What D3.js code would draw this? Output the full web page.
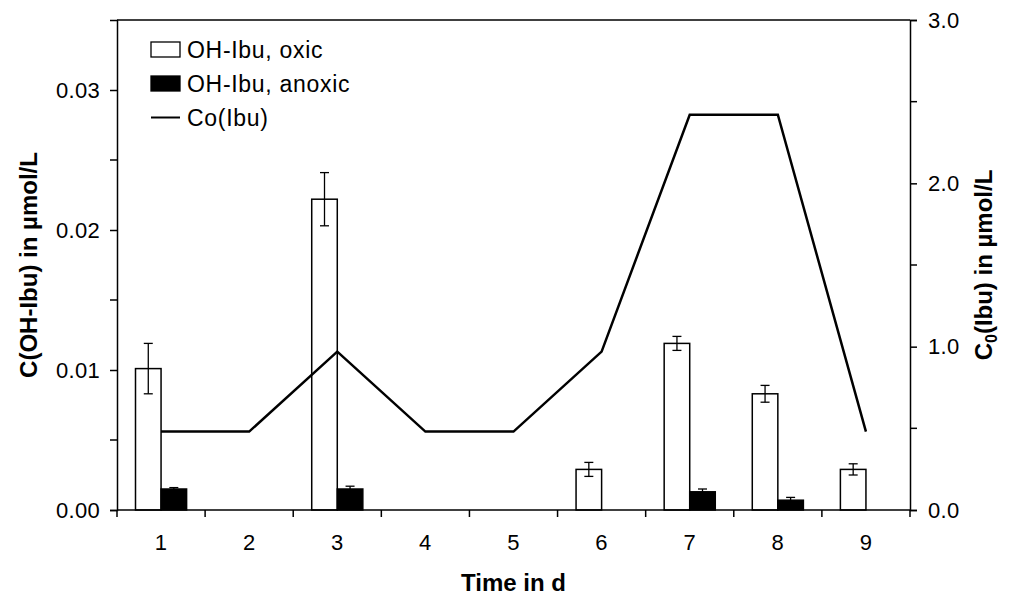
<!DOCTYPE html>
<html>
<head>
<meta charset="utf-8">
<script src="https://cdn.jsdelivr.net/npm/d3@7"></script>
<style>
    body { margin: 0; background: white; }
    svg text { font-family: "Liberation Sans", Arial, sans-serif; fill: black; }
</style>
</head>
<body>
<div id="chart"></div>
<script>
// days on x, OH-Ibu concentrations (left axis), Co(Ibu) (right axis)
let days = [1, 2, 3, 4, 5, 6, 7, 8, 9];
let oxic = [0.0101, null, 0.0222, null, null, 0.0029, 0.0119, 0.0083, 0.0029];
let oxicErr = [0.0018, null, 0.0019, null, null, 0.0005, 0.0005, 0.0006, 0.0004];
let anoxic = [0.0015, null, 0.0015, null, null, null, 0.0013, 0.0007, null];
let anoxicErr = [0.0001, null, 0.0002, null, null, null, 0.0002, 0.0002, null];
let coIbu = [0.48, 0.48, 0.97, 0.48, 0.48, 0.97, 2.42, 2.42, 0.48];

let leftTicks = [0, 0.01, 0.02, 0.03];
let leftMinor = [0.005, 0.015, 0.025];
let rightTicks = [0, 1, 2, 3];
let rightMinor = [0.5, 1.5, 2.5];

let legendItems = ["OH-Ibu, oxic", "OH-Ibu, anoxic", "Co(Ibu)"];

let margin = { top: 20, right: 99, bottom: 88, left: 117 };
let totalW = 1009, totalH = 598;
let width = totalW - margin.left - margin.right;
let height = totalH - margin.top - margin.bottom;

let svg = d3.select("#chart").append("svg")
    .attr("width", totalW)
    .attr("height", totalH)
    .append("g")
    .attr("transform", `translate(${margin.left}, ${margin.top})`);

// scales
let x = d3.scaleBand().domain(days).range([0, width]).padding(0);
let y = d3.scaleLinear().domain([0, 0.035]).range([height, 0]);
let y2 = d3.scaleLinear().domain([0, 3]).range([height, 0]);
let barW = x.bandwidth() * 0.29;
let xc = d => x(d) + x.bandwidth() / 2;

// bars: oxic (white) left of centre, anoxic (black) right of centre
let rows = days.map((d, i) => ({
    day: d, oxic: oxic[i], oxicErr: oxicErr[i],
    anoxic: anoxic[i], anoxicErr: anoxicErr[i], co: coIbu[i]
}));

svg.selectAll("rect.oxic")
    .data(rows.filter(r => r.oxic !== null))
    .enter().append("rect")
    .attr("class", "oxic")
    .attr("x", d => xc(d.day) - barW)
    .attr("y", d => y(d.oxic))
    .attr("width", barW)
    .attr("height", d => height - y(d.oxic))
    .style("fill", "white")
    .style("stroke", "black")
    .style("stroke-width", 1.5);

svg.selectAll("rect.anoxic")
    .data(rows.filter(r => r.anoxic !== null))
    .enter().append("rect")
    .attr("class", "anoxic")
    .attr("x", d => xc(d.day))
    .attr("y", d => y(d.anoxic))
    .attr("width", barW)
    .attr("height", d => height - y(d.anoxic))
    .style("fill", "black")
    .style("stroke", "black")
    .style("stroke-width", 1.5);

// error bars
function errorBars(data, key, errKey, offset) {
    let g = svg.selectAll("g.err-" + key)
        .data(data.filter(r => r[key] !== null))
        .enter().append("g")
        .attr("class", "err-" + key)
        .style("stroke", "black")
        .style("stroke-width", 1.3);
    let cx = d => xc(d.day) + offset;
    g.append("line")
        .attr("x1", cx).attr("x2", cx)
        .attr("y1", d => y(d[key] + d[errKey]))
        .attr("y2", d => y(d[key] - d[errKey]));
    g.append("line")
        .attr("x1", d => cx(d) - 4.5).attr("x2", d => cx(d) + 4.5)
        .attr("y1", d => y(d[key] + d[errKey]))
        .attr("y2", d => y(d[key] + d[errKey]));
    g.append("line")
        .attr("x1", d => cx(d) - 4.5).attr("x2", d => cx(d) + 4.5)
        .attr("y1", d => y(d[key] - d[errKey]))
        .attr("y2", d => y(d[key] - d[errKey]));
}
errorBars(rows, "oxic", "oxicErr", -barW / 2);
errorBars(rows, "anoxic", "anoxicErr", barW / 2);

// Co(Ibu) line on right axis
let line = d3.line().x(d => xc(d.day)).y(d => y2(d.co));
svg.append("path")
    .datum(rows)
    .attr("d", line)
    .style("fill", "none")
    .style("stroke", "black")
    .style("stroke-width", 2.5);

// axes
let axisStyle = function(g) {
    g.selectAll("path, line").style("stroke", "black").style("stroke-width", 1.5);
    g.selectAll("text").style("font-size", "22px").style("letter-spacing", "0.3px");
};

svg.append("g")
    .attr("transform", `translate(0, ${height})`)
    .call(d3.axisBottom(x).tickSize(0).tickPadding(24))
    .call(axisStyle)
    .call(g => g.select(".domain").attr("d", `M0,0H${width}`));

// x ticks sit on the band boundaries
svg.append("g")
    .selectAll("line")
    .data(d3.range(days.length + 1))
    .enter().append("line")
    .attr("x1", i => i * x.step()).attr("x2", i => i * x.step())
    .attr("y1", height).attr("y2", height + 7)
    .style("stroke", "black").style("stroke-width", 1.5);

let yAxis = svg.append("g")
    .call(d3.axisLeft(y).tickValues(leftTicks).tickFormat(d3.format(".2f")).tickSize(7).tickPadding(10))
    .call(axisStyle);
yAxis.selectAll(".minor")
    .data(leftMinor)
    .enter().append("line")
    .attr("class", "minor")
    .attr("x1", -7).attr("x2", 0)
    .attr("y1", d => y(d)).attr("y2", d => y(d))
    .style("stroke", "black").style("stroke-width", 1.5);

let y2Axis = svg.append("g")
    .attr("transform", `translate(${width}, 0)`)
    .call(d3.axisRight(y2).tickValues(rightTicks).tickFormat(d3.format(".1f")).tickSize(7).tickPadding(11))
    .call(axisStyle);
y2Axis.selectAll(".minor")
    .data(rightMinor)
    .enter().append("line")
    .attr("class", "minor")
    .attr("x1", 0).attr("x2", 7)
    .attr("y1", d => y2(d)).attr("y2", d => y2(d))
    .style("stroke", "black").style("stroke-width", 1.5);

// top frame
svg.append("line")
    .attr("x1", 0).attr("x2", width)
    .attr("y1", 0).attr("y2", 0)
    .style("stroke", "black").style("stroke-width", 1.5);

// axis titles
svg.append("text")
    .attr("text-anchor", "middle")
    .attr("x", width / 2)
    .attr("y", height + 81)
    .style("font-size", "24px")
    .style("font-weight", "bold")
    .text("Time in d");

svg.append("text")
    .attr("text-anchor", "middle")
    .attr("transform", `translate(${-80}, ${height / 2}) rotate(-90)`)
    .style("font-size", "24px")
    .style("font-weight", "bold")
    .text("C(OH-Ibu) in µmol/L");

let rt = svg.append("text")
    .attr("text-anchor", "middle")
    .attr("transform", `translate(${width + 82}, ${height / 2}) rotate(-90)`)
    .style("font-size", "24px")
    .style("font-weight", "bold");
rt.append("tspan").text("C");
rt.append("tspan").attr("dy", 5).style("font-size", "16px").text("0");
rt.append("tspan").attr("dy", -5).text("(Ibu) in µmol/L");

// legend
let legend = svg.append("g")
    .attr("transform", "translate(34, 22)");
legendItems.forEach(function(name, i) {
    let row = legend.append("g").attr("transform", `translate(0, ${i * 34})`);
    if (i < 2) {
        row.append("rect")
            .attr("x", 0).attr("y", 0)
            .attr("width", 29).attr("height", 15)
            .style("fill", i === 0 ? "white" : "black")
            .style("stroke", "black")
            .style("stroke-width", 1.3);
    } else {
        row.append("line")
            .attr("x1", 0).attr("x2", 29)
            .attr("y1", 7.5).attr("y2", 7.5)
            .style("stroke", "black")
            .style("stroke-width", 2);
    }
    row.append("text")
        .attr("x", 36)
        .attr("y", 16)
        .style("font-size", "23px")
        .style("letter-spacing", "0.7px")
        .text(name);
});
</script>
</body>
</html>
